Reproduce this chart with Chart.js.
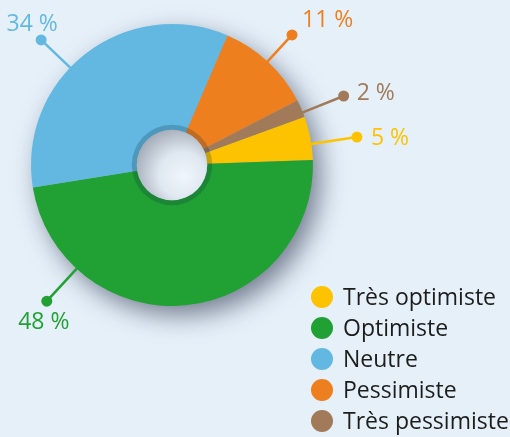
<!DOCTYPE html>
<html>
<head>
<meta charset="utf-8">
<script src="https://cdn.jsdelivr.net/npm/chart.js@4/dist/chart.umd.min.js"></script>
<style>
  html, body { margin: 0; padding: 0; background: #e6f0f9; }
  #wrap { width: 510px; height: 437px; }
</style>
</head>
<body>
<div id="wrap"><canvas id="pie" width="510" height="437"></canvas></div>
<script>
const categories = ["Très optimiste", "Optimiste", "Neutre", "Pessimiste", "Très pessimiste"];
const shares = [5, 48, 34, 11, 2];
const shareLabels = ["5 %", "48 %", "34 %", "11 %", "2 %"];

const colors = ["#fdc300", "#21a134", "#63b8e2", "#ee7f1f", "#a17a59"];
// where each callout sits: angle (deg, canvas), dot distance, text offset, align
const callouts = [
    { angle: -8.6, dist: 187, dx: 14, dy: 8, align: "left" },
    { angle: 132.6, dist: 185, dx: -3, dy: 28, align: "center" },
    { angle: 223.7, dist: 181, dx: -9, dy: -9, align: "center" },
    { angle: 312.7, dist: 177, dx: 10, dy: -8, align: "left" },
    { angle: 338.1, dist: 185, dx: 13, dy: 4, align: "left" }
];
const FONT = "'Open Sans', 'Noto Sans', sans-serif";

const decor = {
    id: "decor",
    beforeDatasetsDraw(chart) {
        const arc = chart.getDatasetMeta(0).data[0];
        const ctx = chart.ctx;
        ctx.save();
        ctx.shadowColor = "rgba(35,45,70,0.6)";
        ctx.shadowBlur = 26;
        ctx.shadowOffsetX = 8;
        ctx.shadowOffsetY = 10;
        ctx.fillStyle = "#9aa3b0";
        ctx.beginPath();
        ctx.arc(arc.x, arc.y, arc.outerRadius - 1, 0, Math.PI * 2);
        ctx.fill();
        ctx.restore();
    },
    afterDatasetsDraw(chart) {
        const arc = chart.getDatasetMeta(0).data[0];
        const ctx = chart.ctx;
        const cx = arc.x, cy = arc.y, ri = arc.innerRadius;
        ctx.save();
        // darker rim around the hole
        ctx.fillStyle = "rgba(10,40,60,0.22)";
        ctx.beginPath();
        ctx.arc(cx, cy, ri + 5, 0, Math.PI * 2);
        ctx.arc(cx, cy, ri, 0, Math.PI * 2, true);
        ctx.fill();
        // the hole
        const g = ctx.createRadialGradient(cx + 12, cy + 12, 2, cx + 8, cy + 8, ri + 14);
        g.addColorStop(0, "#eef5fc");
        g.addColorStop(0.45, "#dfe7f0");
        g.addColorStop(1, "#9ea6b2");
        ctx.fillStyle = g;
        ctx.beginPath();
        ctx.arc(cx, cy, ri, 0, Math.PI * 2);
        ctx.fill();
        ctx.restore();
    },
    afterDraw(chart) {
        const arc = chart.getDatasetMeta(0).data[0];
        const ctx = chart.ctx;
        const cx = arc.x, cy = arc.y, r = arc.outerRadius;
        ctx.save();
        // callouts
        ctx.font = "23px " + FONT;
        ctx.textBaseline = "alphabetic";
        shares.forEach((v, i) => {
            const c = callouts[i];
            const a = c.angle * Math.PI / 180;
            const x0 = cx + Math.cos(a) * (r - 2), y0 = cy + Math.sin(a) * (r - 2);
            const x1 = cx + Math.cos(a) * c.dist, y1 = cy + Math.sin(a) * c.dist;
            ctx.strokeStyle = colors[i];
            ctx.fillStyle = colors[i];
            ctx.lineWidth = 2.5;
            ctx.beginPath();
            ctx.moveTo(x0, y0);
            ctx.lineTo(x1, y1);
            ctx.stroke();
            ctx.beginPath();
            ctx.arc(x1, y1, 5.5, 0, Math.PI * 2);
            ctx.fill();
            ctx.textAlign = c.align;
            ctx.fillText(shareLabels[i], x1 + c.dx, y1 + c.dy);
        });
        // legend
        ctx.textAlign = "left";
        categories.forEach((name, i) => {
            const y = 297 + i * 31;
            ctx.fillStyle = colors[i];
            ctx.beginPath();
            ctx.arc(322, y, 11, 0, Math.PI * 2);
            ctx.fill();
            ctx.fillStyle = "#1d1d1b";
            ctx.fillText(name, 343, y + 8);
        });
        ctx.restore();
    }
};

new Chart(document.getElementById("pie"), {
    type: "doughnut",
    data: {
        labels: categories,
        datasets: [{
            data: shares,
            backgroundColor: colors,
            borderWidth: 0,
            hoverOffset: 0
        }]
    },
    options: {
        responsive: false,
        animation: false,
        rotation: 70,
        cutout: "25%",
        layout: { padding: { left: 31, top: 24, right: 197, bottom: 131 } },
        plugins: {
            legend: { display: false },
            tooltip: { enabled: false }
        }
    },
    plugins: [decor]
});
</script>
</body>
</html>
